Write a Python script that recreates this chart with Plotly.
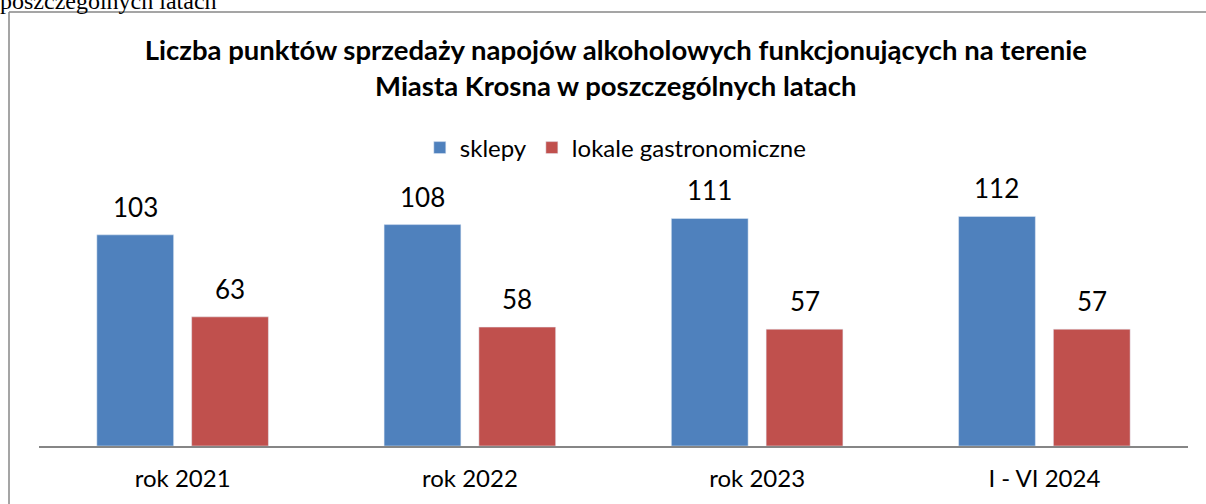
import plotly.graph_objects as go

categories = ["rok 2021", "rok 2022", "rok 2023", "I - VI 2024"]
sklepy = [103, 108, 111, 112]
lokale = [63, 58, 57, 57]
series_names = ["sklepy", "lokale gastronomiczne"]
title_text = ("<b>Liczba punktów sprzedaży napojów alkoholowych funkcjonujących na terenie<br>"
              "Miasta Krosna w poszczególnych latach</b>")
top_fragment = "poszczególnych latach"

FONT = "Lato"
W, H = 1206, 504
ML, MR, MT, MB = 39, 18, 200, 58
PW, PH = W - ML - MR, H - MT - MB
bargap = 0.34
bargroupgap = 0.19

fig = go.Figure()
fig.add_trace(go.Bar(x=categories, y=sklepy, name=series_names[0], marker_color="#4F81BD"))
fig.add_trace(go.Bar(x=categories, y=lokale, name=series_names[1], marker_color="#C0504D"))

# data labels above bars
slot = (1 - bargap) / 2
for i, c in enumerate(categories):
    for j, vals in enumerate([sklepy, lokale]):
        fig.add_annotation(x=i + (j - 0.5) * slot, y=vals[i], xref="x", yref="y",
                           text=str(vals[i]), showarrow=False, yanchor="bottom", yshift=10,
                           font=dict(family=FONT, size=26, color="#000"))

def py(px):
    return (H - MB - px) / PH

def pxx(px):
    return (px - ML) / PW

fig.add_annotation(x=pxx(-2), y=py(1), xref="paper", yref="paper", xanchor="left", yanchor="middle",
                   text=top_fragment, showarrow=False,
                   font=dict(family="Liberation Serif", size=24, color="#000"))

# chart border
fig.add_shape(type="line", xref="paper", yref="paper", x0=pxx(9), x1=pxx(W + 5), y0=py(12), y1=py(12),
              line=dict(color="#878787", width=1.5))
fig.add_shape(type="line", xref="paper", yref="paper", x0=pxx(9), x1=pxx(9), y0=py(12), y1=py(H + 5),
              line=dict(color="#878787", width=1.5))

fig.update_layout(
    width=W, height=H,
    margin=dict(l=ML, r=MR, t=MT, b=MB, autoexpand=False),
    paper_bgcolor="white", plot_bgcolor="white",
    barmode="group", bargap=bargap, bargroupgap=bargroupgap,
    title=dict(text=title_text, x=0.502, xref="paper", xanchor="center", yref="container",
               y=(H - 60) / H, yanchor="middle", font=dict(family=FONT, size=27.5, color="#000")),
    legend=dict(orientation="h", x=0.502, xanchor="center", y=py(148), yanchor="middle",
                font=dict(family=FONT, size=24, color="#000"), itemwidth=30),
    font=dict(family=FONT),
    xaxis=dict(showline=True, linecolor="#868686", linewidth=1.5, ticks="",
               tickfont=dict(family=FONT, size=24, color="#000"), ticklabelstandoff=10),
    yaxis=dict(range=[0, 120], visible=False, showgrid=False),
    showlegend=True,
)

fig.write_html("out.html", config={"displayModeBar": False},
               post_script="document.body.style.margin='0';")
